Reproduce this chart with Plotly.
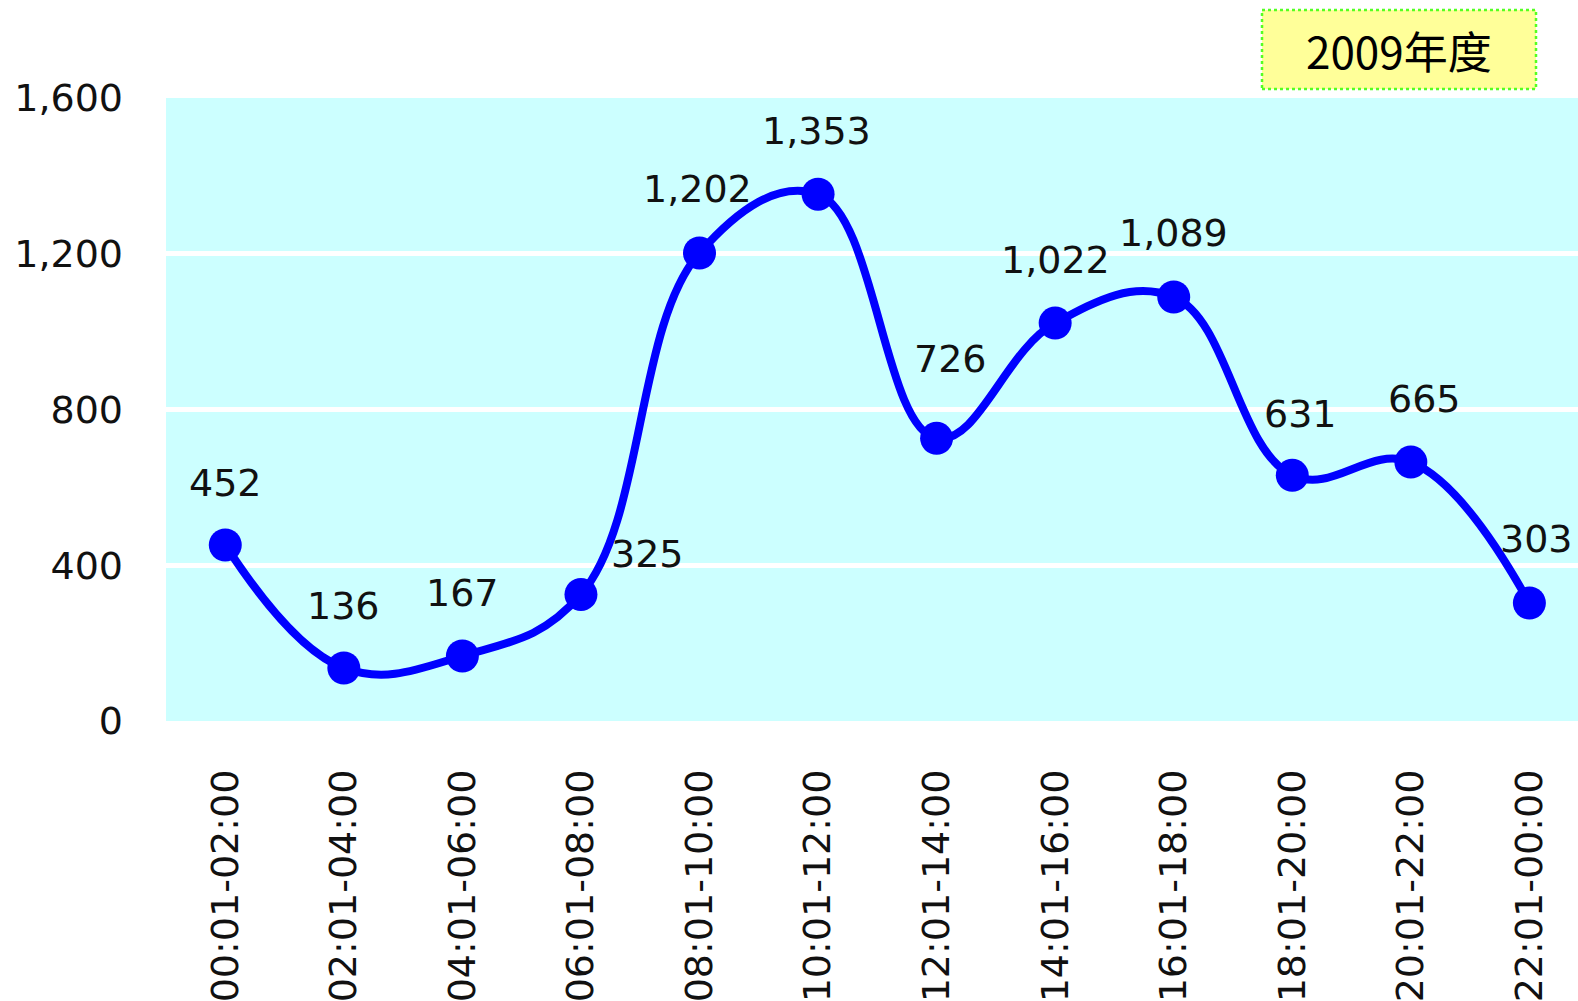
import plotly.graph_objects as go

categories = ["00:01-02:00", "02:01-04:00", "04:01-06:00", "06:01-08:00",
              "08:01-10:00", "10:01-12:00", "12:01-14:00", "14:01-16:00",
              "16:01-18:00", "18:01-20:00", "20:01-22:00", "22:01-00:00"]
values = [452, 136, 167, 325, 1202, 1353, 726, 1022, 1089, 631, 665, 303]
y_ticks = [0, 400, 800, 1200, 1600]
title_text = "2009年度"

# label offsets (pixels) relative to each point
label_dx = [0, 0, 0, 67, -2, -2, 14, 0, 0, 8, 14, 7]
label_dy = [62, 62, 63, 40, 64, 63, 79, 63, 64, 61, 63, 64]

W, H = 1578, 1001
ML, MR, MT, MB = 166, 0, 98, 280
PW, PH = W - ML - MR, H - MT - MB

def px(x):
    return (x - ML) / PW

def py(y):
    return (H - MB - y) / PH

xs = list(range(len(categories)))

fig = go.Figure()
fig.add_trace(go.Scatter(
    x=xs, y=values, mode="lines+markers",
    line=dict(color="#0000FF", width=8, shape="spline", smoothing=1.15),
    marker=dict(color="#0000FF", size=33),
    hoverinfo="skip", showlegend=False, cliponaxis=False,
))

for i, v in enumerate(values):
    fig.add_annotation(
        x=xs[i], y=v, text=f"{v:,}", showarrow=False,
        xshift=label_dx[i], yshift=label_dy[i],
        font=dict(family="DejaVu Sans", size=38, color="#111111"),
    )

fig.add_shape(type="rect", xref="paper", yref="paper",
              x0=px(1262), x1=px(1536), y0=py(89), y1=py(10),
              fillcolor="#FFFF99", line=dict(color="#55FF22", width=2.5, dash="dot"))
fig.add_annotation(xref="paper", yref="paper", x=px(1399), y=py(50),
                   xanchor="center", yanchor="middle",
                   text=title_text, showarrow=False,
                   font=dict(family="Noto Sans CJK SC", size=44, color="#000000"))

fig.update_layout(
    width=W, height=H,
    margin=dict(l=ML, r=MR, t=MT, b=MB),
    paper_bgcolor="white", plot_bgcolor="#CCFFFF",
    showlegend=False,
)
fig.update_xaxes(
    range=[-0.5, 11.41], tickmode="array", tickvals=xs, ticktext=categories,
    tickangle=-90, showgrid=False, zeroline=False, showline=False,
    tickfont=dict(family="DejaVu Sans", size=38, color="#111111"),
    ticklabelstandoff=40,
)
fig.update_yaxes(
    range=[0, 1600], tickmode="array", tickvals=y_ticks,
    ticktext=[f"{t:,}" for t in y_ticks],
    showgrid=True, gridcolor="white", gridwidth=5, zeroline=False, showline=False,
    tickfont=dict(family="DejaVu Sans", size=38, color="#111111"),
    ticklabelstandoff=42,
)

fig.write_html("out.html", config={"displayModeBar": False},
               post_script="document.body.style.margin='0';document.body.style.overflow='hidden';")
